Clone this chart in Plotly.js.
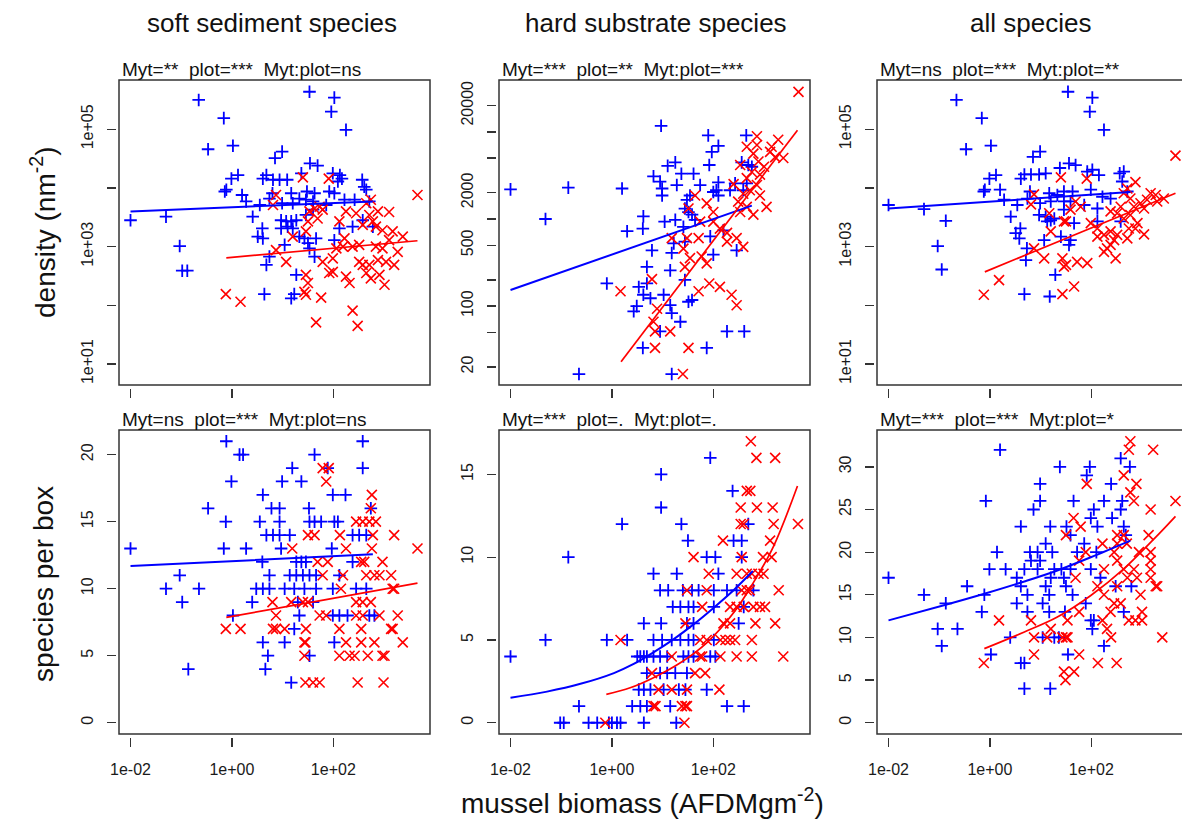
<!DOCTYPE html>
<html>
<head>
<meta charset="utf-8">
<script src="https://cdn.plot.ly/plotly-3.0.1.min.js"></script>
<style>html,body{margin:0;padding:0;background:#fff;}</style>
</head>
<body>
<div id="chart" style="width:1182px;height:825px;"></div>
<script>
// ---------- DATA ----------
// x values are log10(mussel biomass, AFDM g m^-2); density values are log10(n m^-2); species values are counts.
const panelTitles = ['soft sediment species', 'hard substrate species', 'all species'];
const panelStats = [
  'Myt=**\u00a0 plot=***\u00a0 Myt:plot=ns',
  'Myt=***\u00a0 plot=**\u00a0 Myt:plot=***',
  'Myt=ns\u00a0 plot=***\u00a0 Myt:plot=**',
  'Myt=ns\u00a0 plot=***\u00a0 Myt:plot=ns',
  'Myt=***\u00a0 plot=.\u00a0 Myt:plot=.',
  'Myt=***\u00a0 plot=***\u00a0 Myt:plot=*'
];
const xTickVals = [0.01, 1, 100];
const xTickText = ['1e-02', '1e+00', '1e+02'];

// top-left: soft sediment density  [log10 biomass, log10 density]
const softDensBlue = [[-0.655,5.50],[-0.16,5.19],[1.53,5.64],[2.02,5.54],[1.96,5.30],[2.25,4.99],[-0.47,4.66],[0.02,4.72],[0.99,4.62],[0.85,4.51],[1.54,4.42],[1.69,4.38],[-0.01,4.16],[0.12,4.22],[0.61,4.16],[0.68,4.22],[0.81,4.14],[0.94,4.14],[1.09,4.14],[1.37,4.25],[1.99,4.25],[2.13,4.22],[2.17,4.16],[2.09,4.11],[2.57,4.14],[2.61,4.02],[2.65,3.97],[-0.14,3.94],[-0.11,3.97],[0.20,3.88],[0.80,3.91],[1.17,3.91],[1.48,3.94],[1.63,3.91],[1.92,3.94],[2.02,3.91],[0.28,3.77],[0.55,3.71],[0.74,3.82],[0.99,3.74],[1.20,3.74],[1.46,3.80],[1.60,3.77],[2.22,3.80],[2.42,3.80],[2.71,3.77],[-2.0,3.45],[-1.30,3.51],[0.41,3.51],[0.97,3.45],[1.07,3.43],[1.17,3.43],[1.27,3.45],[0.97,3.31],[1.10,3.34],[1.20,3.31],[1.46,3.54],[1.60,3.63],[2.12,3.31],[2.38,3.34],[2.58,3.45],[2.78,3.34],[0.60,3.31],[0.51,3.17],[0.61,3.14],[1.33,3.17],[1.43,3.14],[1.66,3.14],[2.02,3.11],[1.50,3.06],[1.04,3.03],[1.53,2.97],[-1.03,3.01],[0.74,2.83],[0.68,2.69],[1.63,2.83],[-0.98,2.59],[-0.88,2.59],[1.27,2.52],[0.64,2.19],[1.17,2.12],[1.23,2.19],[1.33,3.82],[1.86,3.71]];
const softDensRed = [[3.66,3.88],[1.40,4.18],[1.91,4.16],[0.87,3.88],[0.81,3.71],[2.74,3.80],[2.65,3.74],[1.73,3.68],[1.63,3.65],[1.79,3.63],[1.53,3.60],[1.69,3.48],[2.25,3.60],[2.45,3.57],[2.88,3.60],[3.10,3.59],[2.71,3.54],[2.78,3.43],[2.12,3.43],[2.58,3.37],[2.84,3.34],[2.97,3.28],[3.17,3.26],[3.37,3.17],[1.50,3.43],[1.46,3.26],[1.20,3.17],[2.22,3.14],[3.10,3.11],[0.87,2.94],[2.06,2.97],[2.19,3.00],[2.38,3.00],[2.51,3.03],[2.84,3.00],[2.97,2.97],[3.27,2.91],[1.07,2.74],[1.79,2.74],[1.99,2.80],[2.51,2.74],[2.58,2.69],[2.71,2.69],[2.88,2.77],[3.04,2.74],[3.20,2.69],[1.46,2.52],[1.50,2.38],[1.43,2.23],[1.46,2.18],[1.92,2.55],[1.99,2.57],[2.25,2.49],[2.32,2.38],[2.65,2.55],[2.74,2.46],[2.91,2.52],[3.01,2.35],[-0.12,2.19],[0.17,2.06],[1.76,2.13],[2.38,1.91],[1.66,1.71],[2.48,1.65]];
const softDensBlueFit = [[-2.0,3.60],[2.78,3.77]];
const softDensRedFit = [[-0.11,2.81],[3.66,3.10]];

// top-middle: hard substrate density
const hardDensBlue = [[-2.0,3.34],[-0.86,3.36],[0.20,3.35],[-1.31,3.00],[0.97,4.07],[1.90,3.96],[2.65,3.96],[2.10,3.84],[1.97,3.77],[1.92,3.62],[1.25,3.65],[1.10,3.61],[0.82,3.49],[0.95,3.43],[1.37,3.52],[1.61,3.52],[1.28,3.39],[0.99,3.35],[0.99,3.27],[1.74,3.39],[2.10,3.42],[2.00,3.31],[2.43,3.41],[2.66,3.41],[2.59,3.33],[2.33,3.33],[2.69,3.62],[2.56,3.65],[2.76,3.60],[1.48,3.22],[1.44,3.12],[1.51,3.08],[1.58,3.05],[1.64,2.99],[0.62,3.03],[0.61,2.89],[0.30,2.86],[1.04,2.97],[1.25,2.99],[1.41,2.91],[1.94,2.80],[2.20,2.87],[2.46,2.64],[2.00,2.59],[0.79,2.64],[1.18,2.61],[1.22,2.72],[1.44,2.74],[0.69,2.45],[1.15,2.41],[1.44,2.30],[-0.10,2.26],[0.53,2.22],[0.69,2.26],[0.62,2.13],[0.76,2.09],[1.02,2.13],[0.43,1.94],[0.49,2.00],[1.51,2.05],[1.15,2.01],[1.18,1.92],[1.35,1.82],[0.95,1.71],[0.61,1.52],[1.87,1.52],[2.27,1.71],[2.61,1.71],[-0.65,1.22],[1.18,1.22],[1.58,2.07],[2.06,3.33],[2.10,3.27],[1.54,3.27]];
const hardDensRed = [[3.68,4.46],[2.86,3.95],[3.28,3.91],[3.15,3.83],[3.12,3.77],[3.22,3.71],[3.38,3.70],[2.66,3.83],[2.79,3.75],[2.89,3.66],[2.53,3.62],[2.76,3.54],[2.92,3.51],[2.66,3.47],[2.86,3.39],[2.72,3.33],[2.59,3.29],[2.92,3.27],[2.49,3.20],[2.66,3.14],[2.79,3.05],[3.05,3.14],[2.53,3.08],[1.64,3.27],[1.87,3.18],[2.00,3.08],[1.51,3.12],[1.74,2.97],[2.00,2.97],[2.13,2.89],[2.27,2.84],[2.27,2.74],[2.46,2.78],[2.59,2.68],[1.18,2.78],[1.48,2.78],[1.71,2.78],[1.41,2.66],[1.77,2.57],[1.54,2.55],[1.87,2.49],[1.44,2.45],[0.79,2.31],[0.17,2.17],[1.71,2.17],[1.92,2.26],[2.13,2.22],[2.36,2.13],[2.46,2.01],[0.89,1.97],[0.82,1.82],[0.85,1.71],[1.15,1.71],[0.85,1.52],[1.51,1.52],[1.40,1.22],[2.86,3.85],[3.00,3.60],[2.40,3.40]];
const hardDensBlueFit = [[-2.0,2.185],[2.76,3.153]];
const hardDensRedFit = [[0.18,1.362],[3.66,4.02]];

// top-right: all species density
const allDensBlue = [[-0.66,5.50],[-0.16,5.19],[1.54,5.64],[2.02,5.54],[1.97,5.30],[2.25,4.99],[-0.47,4.66],[0.02,4.72],[0.99,4.62],[0.85,4.53],[1.56,4.42],[1.69,4.39],[1.38,4.34],[-0.01,4.16],[0.12,4.22],[0.61,4.16],[0.68,4.23],[0.81,4.23],[0.97,4.23],[1.10,4.25],[1.92,4.28],[2.02,4.31],[2.15,4.22],[2.56,4.25],[2.64,4.28],[2.61,4.11],[-0.12,3.94],[-0.10,3.97],[0.20,3.97],[0.79,3.94],[1.17,3.91],[1.46,3.94],[1.63,3.94],[1.99,3.97],[2.71,3.94],[-2.0,3.71],[-1.30,3.64],[-0.87,3.44],[0.28,3.80],[0.54,3.71],[0.41,3.51],[0.74,3.82],[0.99,3.74],[1.20,3.77],[1.46,3.77],[1.59,3.77],[2.22,3.85],[2.38,3.82],[0.97,3.54],[1.10,3.51],[1.20,3.45],[1.27,3.48],[1.13,3.43],[1.46,3.63],[1.66,3.40],[2.12,3.65],[2.12,3.43],[2.58,3.43],[0.51,3.23],[0.60,3.31],[0.58,3.14],[1.40,3.17],[1.59,3.11],[1.56,3.03],[1.07,3.11],[-1.03,3.01],[0.73,2.97],[0.71,2.77],[1.29,2.52],[-0.95,2.61],[0.68,2.19],[1.18,2.15],[1.33,3.88],[1.86,3.71]];
const allDensRed = [[3.66,4.55],[1.40,4.18],[1.91,4.16],[0.87,3.89],[0.81,3.72],[2.87,4.10],[2.71,3.99],[2.64,3.91],[2.77,3.82],[3.17,3.91],[3.27,3.88],[3.10,3.80],[3.30,3.77],[3.43,3.82],[2.97,3.74],[3.04,3.65],[2.84,3.68],[2.58,3.68],[2.51,3.57],[2.38,3.60],[1.69,3.77],[1.79,3.68],[1.59,3.63],[1.50,3.43],[1.99,3.40],[2.12,3.31],[2.25,3.20],[2.38,3.26],[2.64,3.48],[2.77,3.54],[2.91,3.40],[2.74,3.31],[3.04,3.21],[2.87,3.31],[2.51,3.20],[2.45,3.11],[2.31,2.97],[2.25,2.91],[2.48,2.80],[2.71,3.14],[2.12,3.17],[1.20,3.26],[1.46,3.43],[1.17,3.57],[1.07,2.80],[0.87,2.97],[1.43,2.80],[1.50,2.69],[1.46,2.66],[1.72,2.74],[1.92,2.72],[1.66,2.32],[1.43,2.19],[0.18,2.43],[-0.12,2.18],[2.38,3.03]];
const allDensBlueFit = [[-2.0,3.65],[2.77,3.93]];
const allDensRedFit = [[-0.10,2.57],[3.66,3.91]];

// bottom-left: soft sediment species per box  [log10 biomass, species]
const softSppBlue = [[-0.11,21],[2.58,21],[0.15,20],[0.22,20],[1.63,20],[1.19,19],[2.58,19],[1.89,19],[-0.01,18],[0.99,18],[1.37,18],[0.61,17],[1.99,17],[2.24,17],[-0.47,16],[0.78,16],[0.94,16],[1.52,16],[2.74,16],[-0.12,15],[0.55,15],[0.94,15],[1.53,15],[1.63,15],[1.76,15],[2.02,15],[2.09,15],[0.68,14],[0.81,14],[0.94,14],[1.14,14],[2.38,14],[2.51,14],[2.65,14],[-2.0,13],[-0.16,13],[0.28,13],[0.97,13],[1.97,13],[0.60,12],[1.27,12],[1.37,12],[1.46,12],[2.38,12],[-1.03,11],[0.74,11],[1.14,11],[1.27,11],[1.40,11],[1.53,11],[1.66,11],[2.12,11],[-1.30,10],[-0.65,10],[0.48,10],[0.61,10],[0.74,10],[1.04,10],[1.23,10],[1.43,10],[1.66,10],[1.99,10],[2.45,10],[2.65,10],[-0.98,9],[0.40,9],[1.30,9],[1.60,9],[0.02,8],[1.33,8],[1.99,8],[2.12,8],[2.28,8],[2.71,8],[2.81,8],[1.23,7],[0.61,6],[1.04,6],[2.02,6],[0.71,5],[1.53,5],[-0.86,4],[0.66,4],[1.17,3]];
const softSppRed = [[1.79,19],[1.91,19],[1.86,18],[2.76,17],[2.74,16],[2.45,15],[2.58,15],[2.71,15],[2.84,15],[1.50,14],[1.63,14],[2.13,14],[2.78,14],[3.20,14],[1.19,13],[2.25,13],[2.76,13],[3.66,13],[1.69,12],[1.89,12],[2.55,12],[2.61,12],[2.97,12],[1.79,11],[2.19,11],[2.65,11],[2.81,11],[2.91,11],[3.14,11],[2.15,10],[3.17,10],[3.20,10],[0.80,9],[1.17,9],[1.40,9],[1.50,9],[2.45,9],[2.58,9],[2.74,9],[0.87,8],[1.73,8],[1.86,8],[2.45,8],[2.58,8],[2.91,8],[3.27,8],[-0.12,7],[0.17,7],[0.81,7],[0.87,7],[1.04,7],[1.46,7],[2.12,7],[2.55,7],[3.14,7],[3.17,7],[1.43,6],[1.45,6],[2.25,6],[2.55,6],[2.81,6],[3.37,6],[1.43,5],[2.12,5],[2.32,5],[2.42,5],[2.68,5],[2.97,5],[3.01,5],[1.45,3],[1.60,3],[1.73,3],[2.48,3],[2.99,3]];
const softSppBlueFit = [[-2.0,11.70],[0.40,12.13],[2.78,12.57]];
const softSppRedFit = [[-0.11,7.86],[1.80,9.15],[3.66,10.41]];

// bottom-middle: hard substrate species per box
const hardSppBlue = [[1.94,16],[0.97,15],[2.38,14],[0.97,13],[0.20,12],[1.37,12],[2.69,12],[1.50,11],[2.40,11],[2.56,11],[-0.86,10],[1.87,10],[2.04,10],[2.56,10],[0.82,9],[1.28,9],[2.10,9],[0.95,8],[1.11,8],[1.40,8],[1.58,8],[1.71,8],[2.01,8],[2.27,8],[2.46,8],[2.79,8],[1.20,7],[1.35,7],[1.51,7],[1.61,7],[2.01,7],[2.60,7],[0.63,6],[0.97,6],[1.48,6],[1.61,6],[2.50,6],[-1.31,5],[-0.10,5],[0.30,5],[0.82,5],[0.99,5],[1.18,5],[1.35,5],[1.51,5],[1.61,5],[2.01,5],[-2.0,4],[0.50,4],[0.56,4],[0.63,4],[0.69,4],[0.82,4],[0.95,4],[1.09,4],[1.41,4],[1.51,4],[1.61,4],[1.94,4],[2.04,4],[0.69,3],[0.95,3],[1.09,3],[1.25,3],[1.48,3],[0.53,2],[0.63,2],[0.76,2],[1.02,2],[1.32,2],[1.45,2],[1.87,2],[-0.65,1],[0.40,1],[0.56,1],[0.69,1],[1.15,1],[2.27,1],[2.60,1],[-1.02,0],[-0.95,0],[-0.46,0],[-0.29,0],[-0.06,0],[0.0,0],[0.10,0],[0.17,0],[0.63,0],[1.27,0]];
const hardSppRed = [[2.74,17],[2.85,16],[3.22,16],[2.66,14],[2.73,14],[2.54,13],[2.86,13],[3.17,13],[2.54,12],[2.60,12],[3.19,12],[3.67,12],[2.19,11],[3.12,11],[1.61,10],[2.56,10],[2.98,10],[3.15,10],[1.91,9],[2.46,9],[2.66,9],[2.76,9],[2.89,9],[2.99,9],[1.48,8],[1.87,8],[2.56,8],[2.66,8],[2.72,8],[3.29,8],[1.78,7],[2.33,7],[2.46,7],[2.60,7],[2.79,7],[2.92,7],[3.02,7],[1.45,6],[2.20,6],[2.33,6],[2.83,6],[3.22,6],[0.17,5],[1.74,5],[1.87,5],[2.14,5],[2.24,5],[2.33,5],[2.43,5],[2.76,5],[1.18,4],[1.74,4],[1.78,4],[2.14,4],[2.46,4],[2.76,4],[3.38,4],[0.79,3],[1.64,3],[1.84,3],[0.92,2],[1.18,2],[1.48,2],[2.12,2],[0.82,1],[0.86,1],[1.38,1],[1.45,1],[1.48,1],[-0.13,0],[1.43,0]];
const hardSppBlueFit = [[-2.0,1.51],[-1.28,1.88],[-0.62,2.35],[0.04,3.00],[0.43,3.55],[0.82,4.25],[1.22,5.05],[1.61,5.94],[2.01,6.95],[2.40,8.00],[2.78,9.16]];
const hardSppRedFit = [[-0.11,1.71],[0.36,2.11],[0.82,2.72],[1.35,3.62],[1.87,4.83],[2.40,6.64],[2.79,8.46],[3.19,10.67],[3.66,14.30]];

// bottom-right: all species per box
const allSppBlue = [[0.20,32],[2.58,31],[1.38,30],[1.97,30],[2.76,30],[1.91,29],[0.99,28],[2.39,28],[-0.08,26],[0.99,26],[1.65,26],[2.25,26],[2.61,26],[0.86,25],[2.05,25],[2.58,25],[1.99,24],[2.41,24],[0.61,23],[1.19,23],[1.51,23],[2.12,23],[2.64,23],[1.59,22],[2.68,22],[1.10,21],[1.86,21],[0.14,20],[0.79,20],[0.94,20],[1.23,20],[1.72,20],[2.10,20],[0.81,19],[0.99,19],[-0.01,18],[0.31,18],[0.68,18],[0.94,18],[1.27,18],[1.41,18],[1.59,18],[1.99,18],[-2.0,17],[0.53,17],[1.20,17],[1.46,17],[2.18,17],[-0.45,16],[0.61,16],[1.10,16],[1.50,16],[2.48,16],[2.79,16],[-1.30,15],[-0.11,15],[0.74,15],[1.17,15],[1.63,15],[-0.87,14],[0.53,14],[1.04,14],[1.89,14],[-0.16,13],[0.74,13],[1.17,13],[1.48,13],[2.64,13],[1.99,12],[2.05,12],[-1.03,11],[-0.64,11],[2.02,11],[0.40,10],[1.04,10],[1.27,10],[1.36,10],[-0.95,9],[2.25,9],[0.02,8],[1.54,8],[0.61,7],[0.68,7],[0.68,4],[1.19,4]];
const allSppRed = [[2.77,33],[2.74,32],[3.22,32],[2.64,29],[1.91,28],[2.89,28],[2.77,27],[2.84,26],[3.66,26],[3.17,25],[1.65,24],[1.79,23],[1.50,22],[2.51,22],[2.64,22],[3.13,22],[2.22,21],[2.51,21],[2.70,21],[1.89,20],[2.45,20],[2.94,20],[3.17,20],[1.76,19],[2.51,19],[3.17,19],[2.25,18],[2.64,18],[2.84,18],[3.17,18],[1.69,17],[2.71,17],[2.90,17],[3.17,17],[2.12,16],[2.51,16],[3.27,16],[3.30,16],[2.25,15],[2.97,15],[2.45,14],[2.58,14],[1.76,13],[2.38,13],[3.00,13],[0.18,12],[0.81,12],[1.53,12],[2.22,12],[2.74,12],[2.87,12],[3.00,12],[1.20,11],[2.31,11],[0.87,10],[1.13,10],[1.43,10],[1.50,10],[1.53,10],[2.39,10],[3.40,10],[0.87,8],[1.76,8],[-0.12,7],[2.13,7],[2.50,7],[1.46,6],[1.66,6],[1.49,5]];
const allSppBlueFit = [[-2.0,12.0],[-0.87,13.83],[-0.11,15.12],[0.68,16.56],[1.33,17.85],[1.99,19.4],[2.77,21.35]];
const allSppRedFit = [[-0.11,8.69],[0.68,10.64],[1.33,12.39],[1.99,14.92],[2.64,18.04],[3.30,21.94],[3.66,24.2]];

// ---------- CHART ----------
const W = 1182, H = 825;
const FONT = 'Liberation Sans, Arial, Helvetica, sans-serif';
const BLUE = '#0000ff', RED = '#ff0000';
const colPx = [[119, 430], [499, 810], [877, 1190]];
const rowPx = [[80, 385], [430, 734]];
const px2x = v => v / W, px2y = v => 1 - v / H;

const panels = [
  {blue: softDensBlue, red: softDensRed, bf: softDensBlueFit, rf: softDensRedFit, logY: true},
  {blue: hardDensBlue, red: hardDensRed, bf: hardDensBlueFit, rf: hardDensRedFit, logY: true},
  {blue: allDensBlue, red: allDensRed, bf: allDensBlueFit, rf: allDensRedFit, logY: true},
  {blue: softSppBlue, red: softSppRed, bf: softSppBlueFit, rf: softSppRedFit, logY: false},
  {blue: hardSppBlue, red: hardSppRed, bf: hardSppBlueFit, rf: hardSppRedFit, logY: false},
  {blue: allSppBlue, red: allSppRed, bf: allSppBlueFit, rf: allSppRedFit, logY: false}
];
// labelled ticks and unlabelled (minor) ticks for each panel's y axis
const yAxisSpecs = [
  {type: 'log', range: [0.642, 5.84], tickvals: [10, 1000, 100000], ticktext: ['1e+01', '1e+03', '1e+05'], minorvals: [100, 10000]},
  {type: 'log', range: [1.094, 4.596], tickvals: [20, 100, 500, 2000, 20000], ticktext: ['20', '100', '500', '2000', '20000'], minorvals: [50, 200, 1000, 5000, 10000]},
  {type: 'log', range: [0.642, 5.84], tickvals: [10, 1000, 100000], ticktext: ['1e+01', '1e+03', '1e+05'], minorvals: [100, 10000]},
  {type: 'linear', range: [-0.84, 21.84], tickvals: [0, 5, 10, 15, 20], ticktext: ['0', '5', '10', '15', '20'], minorvals: []},
  {type: 'linear', range: [-0.68, 17.68], tickvals: [0, 5, 10, 15], ticktext: ['0', '5', '10', '15'], minorvals: []},
  {type: 'linear', range: [-1.32, 34.32], tickvals: [0, 5, 10, 15, 20, 25, 30], ticktext: ['0', '5', '10', '15', '20', '25', '30'], minorvals: []}
];

const toX = pairs => pairs.map(p => Math.pow(10, p[0]));
const toY = (pairs, logY) => pairs.map(p => logY ? Math.pow(10, p[1]) : p[1]);

const TICKFONT = {family: FONT, size: 16, color: '#1a1a1a'};
const traces = [];
const layout = {
  width: W, height: H, margin: {l: 0, r: 0, t: 0, b: 0},
  paper_bgcolor: '#ffffff', plot_bgcolor: '#ffffff', showlegend: false,
  font: {family: FONT, color: '#1a1a1a'},
  shapes: [], annotations: []
};

panels.forEach((p, i) => {
  const col = i % 3, row = Math.floor(i / 3);
  const sfx = i === 0 ? '' : String(i + 1);
  const xa = 'x' + sfx, ya = 'y' + sfx;
  const xr = col === 2 ? [-2.227, -2.227 + (W - 877) / 50.7] : [-2.227, 3.907];
  layout['xaxis' + sfx] = {
    domain: [px2x(colPx[col][0]), col === 2 ? 1 : px2x(colPx[col][1])],
    type: 'log', range: xr, anchor: 'free', position: px2y(rowPx[row][1] + 3),
    tickmode: 'array', tickvals: xTickVals, ticktext: xTickText,
    showticklabels: row === 1, ticks: 'outside', ticklen: 9, tickwidth: 1.3, tickcolor: '#333',
    ticklabelstandoff: 9, tickfont: TICKFONT,
    showgrid: false, zeroline: false, showline: false, fixedrange: true
  };
  const ys = yAxisSpecs[i];
  const yax = {
    domain: [px2y(rowPx[row][1]), px2y(rowPx[row][0])],
    type: ys.type, range: ys.range, anchor: 'free', position: px2x(colPx[col][0] - 3),
    tickmode: 'array', tickvals: ys.tickvals, ticktext: ys.ticktext, tickangle: -90,
    ticks: 'outside', ticklen: 9, tickwidth: 1.3, tickcolor: '#333',
    ticklabelstandoff: 8, tickfont: TICKFONT,
    showgrid: false, zeroline: false, showline: false, fixedrange: true
  };
  if (ys.minorvals.length) {
    yax.minor = {tickmode: 'array', tickvals: ys.minorvals, ticks: 'outside', ticklen: 9, tickwidth: 1.3, tickcolor: '#333', showgrid: false};
  }
  layout['yaxis' + sfx] = yax;
  traces.push({
    type: 'scatter', mode: 'markers', xaxis: xa, yaxis: ya,
    x: toX(p.blue), y: toY(p.blue, p.logY),
    marker: {symbol: 'cross-thin-open', size: 9, color: BLUE, line: {color: BLUE, width: 1.8}},
    hoverinfo: 'skip'
  });
  traces.push({
    type: 'scatter', mode: 'markers', xaxis: xa, yaxis: ya,
    x: toX(p.red), y: toY(p.red, p.logY),
    marker: {symbol: 'x-thin-open', size: 10, color: RED, line: {color: RED, width: 1.6}},
    hoverinfo: 'skip'
  });
  traces.push({
    type: 'scatter', mode: 'lines', xaxis: xa, yaxis: ya,
    x: toX(p.bf), y: toY(p.bf, p.logY),
    line: {color: BLUE, width: 2, shape: 'spline', smoothing: 1}, hoverinfo: 'skip'
  });
  traces.push({
    type: 'scatter', mode: 'lines', xaxis: xa, yaxis: ya,
    x: toX(p.rf), y: toY(p.rf, p.logY),
    line: {color: RED, width: 1.7, shape: 'spline', smoothing: 1}, hoverinfo: 'skip'
  });
  // panel box
  layout.shapes.push({
    type: 'rect', xref: 'paper', yref: 'paper', layer: 'above',
    x0: px2x(colPx[col][0]), x1: px2x(colPx[col][1]),
    y0: px2y(rowPx[row][1]), y1: px2y(rowPx[row][0]),
    line: {color: '#333333', width: 1.5}, fillcolor: 'rgba(0,0,0,0)'
  });
  // significance text above each panel
  layout.annotations.push({
    xref: 'paper', yref: 'paper', x: px2x(colPx[col][0] + 1), y: px2y(rowPx[row][0]),
    xanchor: 'left', yanchor: 'bottom', yshift: -2, showarrow: false,
    text: panelStats[i], font: {family: FONT, size: 19, color: '#111'}
  });
});

// column titles
const colCenters = [272, 656, 1030];
panelTitles.forEach((t, c) => {
  layout.annotations.push({
    xref: 'paper', yref: 'paper', x: px2x(colCenters[c]), y: px2y(23),
    xanchor: 'center', yanchor: 'middle', showarrow: false,
    text: t, font: {family: FONT, size: 26, color: '#111'}
  });
});
// axis titles
layout.annotations.push({
  xref: 'paper', yref: 'paper', x: px2x(43), y: px2y(233), xanchor: 'center', yanchor: 'middle',
  showarrow: false, textangle: -90, text: 'density (nm<sup>-2</sup>)', font: {family: FONT, size: 28, color: '#111'}
});
layout.annotations.push({
  xref: 'paper', yref: 'paper', x: px2x(43), y: px2y(584), xanchor: 'center', yanchor: 'middle',
  showarrow: false, textangle: -90, text: 'species per box', font: {family: FONT, size: 28, color: '#111'}
});
layout.annotations.push({
  xref: 'paper', yref: 'paper', x: px2x(642), y: px2y(801), xanchor: 'center', yanchor: 'middle',
  showarrow: false, text: 'mussel biomass (AFDMgm<sup>-2</sup>)', font: {family: FONT, size: 28, color: '#111'}
});

Plotly.newPlot('chart', traces, layout, {staticPlot: true, displayModeBar: false});
</script>
</body>
</html>
